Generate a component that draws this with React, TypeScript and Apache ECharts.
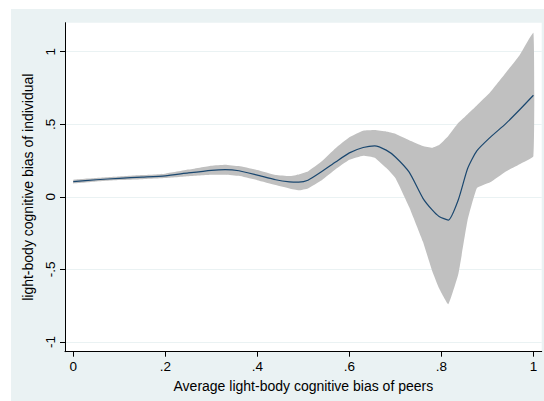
import React, { useEffect, useRef } from "react";
import * as echarts from "echarts";

const xPeers = [0, 0.05, 0.1, 0.15, 0.2, 0.25, 0.3, 0.33, 0.36, 0.4, 0.44, 0.47, 0.49, 0.51, 0.54, 0.57, 0.6, 0.63, 0.655, 0.68, 0.7, 0.73, 0.76, 0.78, 0.795, 0.815, 0.837, 0.857, 0.877, 0.906, 0.94, 0.97, 1.0];
const fitted = [0.105, 0.118, 0.128, 0.136, 0.145, 0.165, 0.183, 0.188, 0.18, 0.15, 0.118, 0.104, 0.102, 0.115, 0.175, 0.24, 0.303, 0.34, 0.352, 0.322, 0.275, 0.17, -0.01, -0.09, -0.135, -0.16, -0.018, 0.195, 0.317, 0.41, 0.505, 0.6, 0.7];
const upperCI = [0.118, 0.13, 0.14, 0.15, 0.16, 0.188, 0.215, 0.222, 0.212, 0.185, 0.15, 0.143, 0.155, 0.175, 0.245, 0.335, 0.41, 0.455, 0.46, 0.45, 0.435, 0.39, 0.35, 0.338, 0.357, 0.42, 0.51, 0.57, 0.63, 0.72, 0.855, 0.975, 1.13];
const lowerCI = [0.093, 0.106, 0.116, 0.122, 0.13, 0.142, 0.152, 0.153, 0.145, 0.115, 0.082, 0.058, 0.045, 0.058, 0.115, 0.19, 0.255, 0.283, 0.27, 0.2, 0.13, -0.07, -0.31, -0.51, -0.63, -0.74, -0.53, -0.16, 0.06, 0.1, 0.175, 0.225, 0.28];

const xTicks = [0, 0.2, 0.4, 0.6, 0.8, 1];
const yTicks = [-1, -0.5, 0, 0.5, 1];

const fmt = (v: number) => {
  const r = Math.round(v * 100) / 100;
  if (r === 0) return "0";
  return String(r).replace("0.", ".");
};

export default function App() {
  const ref = useRef<HTMLDivElement>(null);
  useEffect(() => {
    if (!ref.current) return;
    const chart = echarts.init(ref.current, null, { renderer: "svg" });
    const font = "Liberation Sans, Arial, sans-serif";
    chart.setOption({
      animation: false,
      backgroundColor: "#EAF2F3",
      graphic: [
        { type: "rect", shape: { x: 0, y: 0, width: 544, height: 9 }, style: { fill: "#ffffff" }, silent: true },
        { type: "rect", shape: { x: 0, y: 0, width: 11, height: 401 }, style: { fill: "#ffffff" }, silent: true },
      ],
      grid: {
        left: 65,
        right: 2.3,
        top: 22.7,
        bottom: 49.3,
        show: true,
        backgroundColor: "#ffffff",
        borderWidth: 0,
      },
      xAxis: {
        type: "value",
        min: -0.018,
        max: 1.018,
        name: "Average light-body cognitive bias of peers",
        nameLocation: "middle",
        nameGap: 23,
        nameTextStyle: { fontFamily: font, fontSize: 14, color: "#000" },
        axisLine: { show: true, onZero: false, lineStyle: { color: "#000", width: 1 } },
        axisTick: { show: true, length: 5, customValues: xTicks, lineStyle: { color: "#000" } },
        axisLabel: { customValues: xTicks, formatter: fmt, fontFamily: font, fontSize: 13.5, color: "#000", margin: 8 },
        splitLine: { show: false },
      },
      yAxis: {
        type: "value",
        min: -1.0667,
        max: 1.2,
        name: "light-body cognitive bias of individual",
        nameLocation: "middle",
        nameRotate: 90,
        nameGap: 18,
        nameTextStyle: { fontFamily: font, fontSize: 14, color: "#000" },
        axisLine: { show: true, onZero: false, lineStyle: { color: "#000", width: 1 } },
        axisTick: { show: true, length: 5, customValues: yTicks, lineStyle: { color: "#000" } },
        axisLabel: { customValues: yTicks, formatter: fmt, rotate: 90, fontFamily: font, fontSize: 13.5, color: "#000", margin: 8 },
        splitLine: { show: true, lineStyle: { color: "#EAF2F3", width: 1 } },
      },
      series: [
        {
          type: "custom",
          name: "95% CI",
          data: xPeers.map((x, i) => [x, lowerCI[i], upperCI[i]]),
          encode: { x: 0, y: [1, 2] },
          silent: true,
          renderItem: (params: any, api: any) => {
            if (params.dataIndex !== 0) return null;
            const pts: number[][] = [];
            for (let i = 0; i < xPeers.length; i++) pts.push(api.coord([xPeers[i], upperCI[i]]));
            for (let i = xPeers.length - 1; i >= 0; i--) pts.push(api.coord([xPeers[i], lowerCI[i]]));
            return {
              type: "polygon",
              shape: { points: pts, smooth: 0.1 },
              style: { fill: "#C0C0C0", stroke: "none" },
            };
          },
        },
        {
          type: "line",
          name: "fit",
          data: xPeers.map((x, i) => [x, fitted[i]]),
          symbol: "none",
          smooth: 0.2,
          lineStyle: { color: "#1A476F", width: 1.2 },
          silent: true,
        },
      ],
    });
    return () => chart.dispose();
  }, []);
  return <div ref={ref} style={{ position: "absolute", left: 0, top: 0, width: 544, height: 401 }} />;
}
